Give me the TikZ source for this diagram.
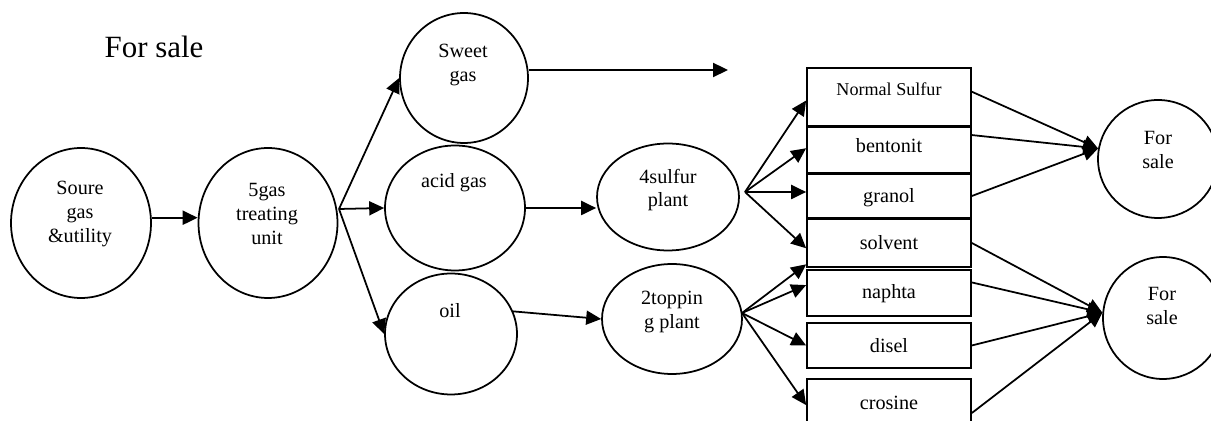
\documentclass[tikz,border=0pt]{standalone}
\usepackage{fontspec}
\setmainfont{Liberation Serif}
\usetikzlibrary{arrows.meta,shapes.geometric}

\begin{document}
\begin{tikzpicture}[x=0.02cm,y=-0.02cm,line width=1pt,
    flow/.style={->,>={Triangle[length=8.5pt,width=8pt]}},
    unit/.style={ellipse,draw,inner sep=0pt},
    prod/.style={rectangle,draw,minimum width=3.28cm,inner sep=0pt},
    txt/.style={align=center,inner sep=0pt,font=\fontsize{11.5}{13.6}\selectfont}]

  \useasboundingbox (0,0) rectangle (1211,421);

  % plant units
  \node[unit,minimum width=2.8cm,minimum height=3cm] (src) at (81,223) {};
  \node[unit,minimum width=2.78cm,minimum height=3cm] (gtu) at (268,223) {};
  \node[unit,minimum width=2.56cm,minimum height=2.6cm] (sweet) at (464,78) {};
  \node[unit,minimum width=2.8cm,minimum height=2.5cm] (acid) at (455,208) {};
  \node[unit,minimum width=2.64cm,minimum height=2.42cm] (oil) at (451,334) {};
  \node[unit,minimum width=2.84cm,minimum height=2.14cm] (sulfur) at (668,197) {};
  \node[unit,minimum width=2.8cm,minimum height=2.2cm] (topping) at (672,319) {};
  \node[unit,minimum width=2.4cm,minimum height=2.36cm] (sale1) at (1158,159) {};
  \node[unit,minimum width=2.4cm,minimum height=2.44cm] (sale2) at (1163,318) {};

  % products
  \node[prod,minimum height=1.16cm] (ns) at (889,97) {};
  \node[prod,minimum height=0.92cm] (bent) at (889,150) {};
  \node[prod,minimum height=0.88cm] (gran) at (889,196) {};
  \node[prod,minimum height=0.96cm] (solv) at (889,243) {};
  \node[prod,minimum height=0.92cm] (naph) at (889,293) {};
  \node[prod,minimum height=0.9cm] (disel) at (889,345.5) {};
  \node[prod,minimum height=1.22cm] (cros) at (889,409.5) {};

  % texts
  \node[inner sep=0pt,font=\fontsize{17.6}{20}\selectfont] (title) at (154,47) {For sale};
  \node[txt] (srcT) at (80,214) {Soure\\gas\\\&utility};
  \node[txt] (gtuT) at (267,214) {5gas\\treating\\unit};
  \node[txt] (sweetT) at (463,65) {Sweet\\gas};
  \node[txt] (acidT) at (454,183) {acid gas};
  \node[txt] (oilT) at (450,311) {oil};
  \node[txt] (sulfurT) at (668,190) {4sulfur\\plant};
  \node[txt] (toppingT) at (672,312) {2toppin\\g plant};
  \node[txt,font=\fontsize{10.3}{12}\selectfont] (nsT) at (889,89) {Normal Sulfur};
  \node[txt] (bentT) at (889,146) {bentonit};
  \node[txt] (granT) at (889,198) {granol};
  \node[txt] (solvT) at (889,243) {solvent};
  \node[txt] (naphT) at (889,294) {naphta};
  \node[txt] (diselT) at (889,346) {disel};
  \node[txt] (crosT) at (889,403) {crosine};
  \node[txt] (sale1T) at (1158,150) {For\\sale};
  \node[txt] (sale2T) at (1162,306) {For\\sale};

  \coordinate (gfan) at (339,209);
  \coordinate (sfan) at (745,192);
  \coordinate (tfan) at (742,313);
  \coordinate (sweetout) at (728,70);

  % flows
  \draw[flow] ([yshift=3pt]src.east) -- ([yshift=3pt]gtu.west);
  \draw[flow] (gfan) -- (sweet.west);
  \draw[flow] (gfan) -- (acid.west);
  \draw[flow] (gfan) -- (oil.west);
  \draw[flow] (sweet.east |- sweetout) -- (sweetout);
  \draw[flow] (acid.east) -- (acid.east -| sulfur.west);
  \draw[flow] (oil.20) -- (topping.west);

  \draw[flow] (sfan) -- ([yshift=-2pt]ns.west);
  \draw[flow] (sfan) -- ([yshift=1pt]bent.west);
  \draw[flow] (sfan) -- (gran.west |- sfan);
  \draw[flow] (sfan) -- ([yshift=-3pt]solv.west);
  \draw[flow] (tfan) -- ([yshift=2pt]solv.south west);
  \draw[flow] (tfan) -- ([yshift=4.5pt]naph.west);
  \draw[flow] (tfan) -- (disel.west);
  \draw[flow] (tfan) -- ([yshift=2.5pt]cros.west);

  \draw[flow] ([yshift=3pt]ns.east) -- (sale1.170);
  \draw[flow] ([yshift=8.5pt]bent.east) -- (sale1.170);
  \draw[flow] (gran.east) -- (sale1.170);
  \draw[flow] (solv.east) -- (sale2.175);
  \draw[flow] ([yshift=6pt]naph.east) -- (sale2.175);
  \draw[flow] (disel.east) -- (sale2.175);
  \draw[flow] ([yshift=-2pt]cros.east) -- (sale2.175);
\end{tikzpicture}
\end{document}
